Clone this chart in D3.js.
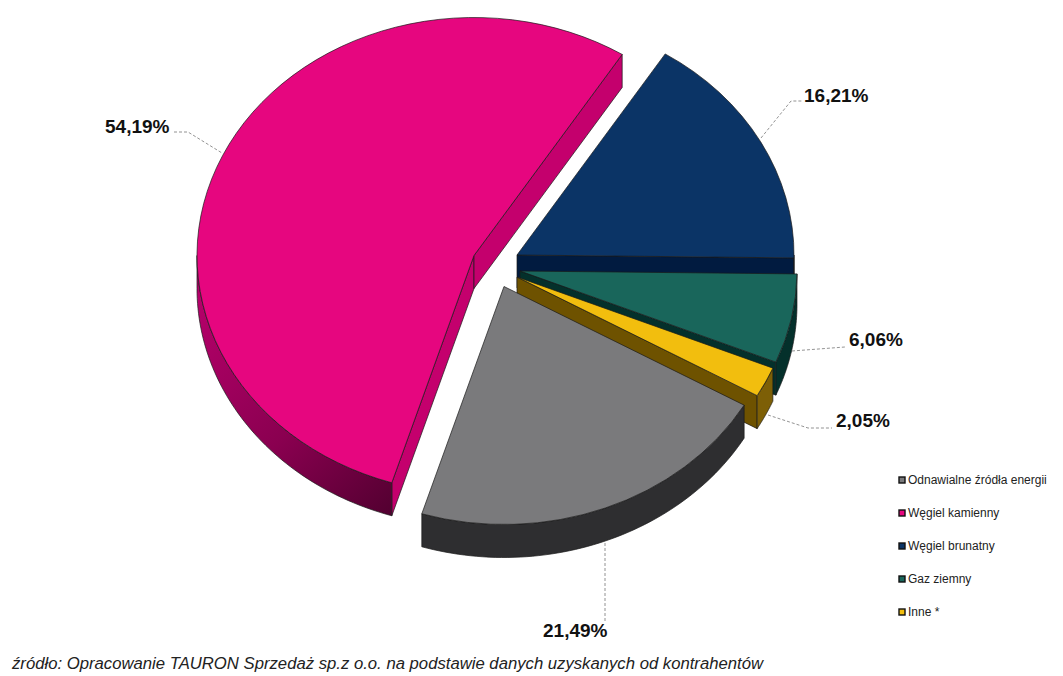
<!DOCTYPE html>
<html><head><meta charset="utf-8">
<script src="https://cdnjs.cloudflare.com/ajax/libs/d3/7.8.5/d3.min.js"></script>
<style>html,body{margin:0;padding:0;background:#fff}svg{display:block}</style>
</head><body><svg id="c" width="1063" height="676"></svg>
<script>
const categories = ["Odnawialne źródła energii","Węgiel kamienny","Węgiel brunatny","Gaz ziemny","Inne *"];
const values = [21.49,54.19,16.21,6.06,2.05];
const labels = ["21,49%","54,19%","16,21%","6,06%","2,05%"];
const sourceText = "źródło: Opracowanie TAURON Sprzedaż sp.z o.o. na podstawie danych uzyskanych od kontrahentów";

const topColors  = ["#7a7a7c","#e6067f","#0b3466","#19665b","#f2be0e"];
const wallColors = ["#2e2e30","url(#pinkWall)","#011b40","#04302b","#7d5f06"];
const cutColors  = ["#2e2e30","#c4006d","#011b40","#04302b","#6e5200"];
const centers = [[504,286.5],[474,255.5],[517,255],[520,271],[517,277]];
const labelPos = [[543,637],[105,133],[804,102],[849,346],[836,427]];
const leaders = [
  [[605,543],[605,621]],
  [[174,132],[188,132],[222,153]],
  [[761,138],[791,101],[802,101]],
  [[792,351],[845,347]],
  [[768,415],[808,428],[832,428]]
];
const rx = 277, ry = 238, depth = 33;
const rotationDeg = 0.7;
const drawOrder = [1,2,3,4,0];

const svg = d3.select("#c");
const grad = svg.append("defs").append("linearGradient").attr("id","pinkWall")
  .attr("gradientUnits","userSpaceOnUse").attr("x1",197).attr("y1",300).attr("x2",390).attr("y2",517);
grad.append("stop").attr("offset",0).attr("stop-color","#b5006a");
grad.append("stop").attr("offset",0.55).attr("stop-color","#8a0050");
grad.append("stop").attr("offset",1).attr("stop-color","#520030");

const total = d3.sum(values);
const start = (90 + rotationDeg + (values[3]+values[4])/total*360) * Math.PI/180;
const arcs = d3.pie().sort(null).startAngle(start).endAngle(start+2*Math.PI)(values);
const pt = (c,a,dz=0)=>[c[0]+rx*Math.sin(a), c[1]-ry*Math.cos(a)+dz];
const arcTop = d3.arc().innerRadius(0).outerRadius(rx);
const line = d3.line();

function wallPath(c,a0,a1){
  // visible part of the rim: the lower half of the ellipse (pi/2..3pi/2 in pie angles)
  const segs = [];
  for (const k of [0,1]) {
    const lo = Math.max(a0, Math.PI/2 + k*2*Math.PI), hi = Math.min(a1, 3*Math.PI/2 + k*2*Math.PI);
    if (hi <= lo) continue;
    const n = 60, as = d3.range(n+1).map(i=>lo+(hi-lo)*i/n);
    const up = as.map(a=>pt(c,a)), dn = as.slice().reverse().map(a=>pt(c,a,depth));
    segs.push(line(up.concat(dn))+"Z");
  }
  return segs.join("");
}
function cutPath(c,a){
  const p = pt(c,a);
  return line([c,p,[p[0],p[1]+depth],[c[0],c[1]+depth]])+"Z";
}

const pie = svg.append("g");
drawOrder.forEach(i=>{
  const d = arcs[i], c = centers[i];
  const g = pie.append("g");
  const add = (dd,fill)=>g.append("path").attr("d",dd).attr("fill",fill)
    .attr("stroke","#1a1a1a").attr("stroke-width",0.7).attr("stroke-linejoin","round");
  // cut faces turned to the viewer
  if (-Math.cos(d.startAngle-Math.PI/2) > 0 || i===1) add(cutPath(c,d.startAngle),cutColors[i]);
  if (-Math.cos(d.endAngle+Math.PI/2) > 0 || i===1) add(cutPath(c,d.endAngle),cutColors[i]);
  const w = wallPath(c,d.startAngle,d.endAngle);
  if (w) add(w,wallColors[i]);
  g.append("path").attr("d",arcTop(d))
    .attr("transform",`translate(${c[0]},${c[1]}) scale(1,${ry/rx})`)
    .attr("fill",topColors[i]).attr("stroke","#1a1a1a").attr("stroke-width",0.7)
    .style("vector-effect","non-scaling-stroke");
});

svg.append("g").selectAll("path").data(leaders).join("path")
  .attr("d",d=>line(d)).attr("fill","none").attr("stroke","#777").attr("stroke-width",0.8).attr("stroke-dasharray","3,2");

svg.append("g").selectAll("text").data(labels).join("text")
  .attr("x",(d,i)=>labelPos[i][0]).attr("y",(d,i)=>labelPos[i][1]).text(d=>d)
  .attr("font-family","'Liberation Sans',Arial,sans-serif").attr("font-weight","bold").attr("font-size",19).attr("fill","#111");

const legendY = d3.scalePoint().domain(categories).range([480,612]);
const lg = svg.append("g").selectAll("g").data(categories).join("g")
  .attr("transform",d=>`translate(899,${legendY(d)})`);
lg.append("rect").attr("x",0).attr("y",-3).attr("width",6).attr("height",6)
  .attr("fill",(d,i)=>topColors[i]).attr("stroke","#111").attr("stroke-width",1.4);
lg.append("text").attr("x",9).attr("y",4).text(d=>d)
  .attr("font-family","'Liberation Sans',Arial,sans-serif").attr("font-size",12).attr("fill","#222");

svg.append("text").attr("x",12).attr("y",669).text(sourceText)
  .attr("font-family","'Liberation Sans',Arial,sans-serif").attr("font-style","italic").attr("font-size",16.7).attr("fill","#222");
</script></body></html>
